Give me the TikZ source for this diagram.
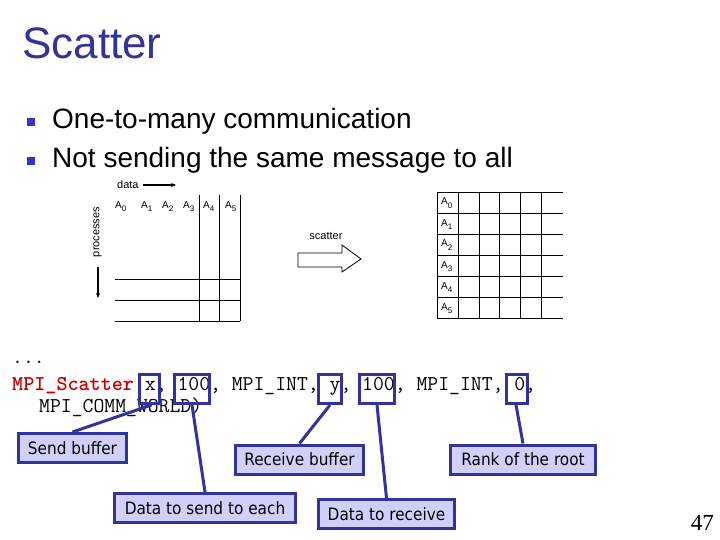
\documentclass[tikz,border=0pt]{standalone}
\usepackage{fontspec}
\setmainfont{Liberation Sans}
\newfontfamily\lblfont[FakeStretch=0.9]{DejaVu Sans}
\newfontfamily\numfont{Liberation Serif}
\usetikzlibrary{arrows.meta}
\definecolor{titleblue}{RGB}{51,51,153}
\definecolor{bulletblue}{RGB}{51,51,204}
\definecolor{boxblue}{RGB}{51,51,160}
\definecolor{boxfill}{RGB}{208,208,250}
\definecolor{codered}{RGB}{200,0,0}
\newcommand\Asub[1]{A\raisebox{-3pt}{\fontsize{8}{8}\selectfont #1}}
\begin{document}
\begin{tikzpicture}[x=1pt,y=-1pt,
  titletext/.style={anchor=base west, inner sep=0, text=titleblue, font=\fontsize{44}{50}\selectfont},
  bullettext/.style={anchor=base west, inner sep=0, font=\fontsize{28}{32}\selectfont},
  bulletsq/.style={fill=bulletblue, minimum size=8pt, inner sep=0},
  codetext/.style={anchor=base west, inner sep=0, font=\ttfamily\fontsize{21.1}{23}\selectfont},
  codebox/.style={draw=boxblue, line width=3pt, inner sep=0, minimum height=29pt},
  lbl/.style={draw=boxblue, fill=boxfill, line width=3pt, inner sep=0, minimum height=29pt, font=\lblfont\fontsize{17}{20}\selectfont},
  conn/.style={draw=boxblue, line width=3pt},
  gridline/.style={line width=0.9pt},
  smalltext/.style={inner sep=0, font=\fontsize{11}{13}\selectfont},
  alabel/.style={anchor=base west, inner sep=0, font=\fontsize{10}{11}\selectfont},
]
\useasboundingbox (0,0) rectangle (720,540);

% title and bullets
\node[titletext] (title) at (22,59) {Scatter};
\node[bulletsq] (sq1) at (31,122) {};
\node[bullettext] (b1) at (52,129) {One-to-many communication};
\node[bulletsq] (sq2) at (31,161) {};
\node[bullettext] (b2) at (52,168) {Not sending the same message to all};

% left diagram
\node[smalltext, anchor=base west] (data) at (117,189) {data};
\coordinate (da1) at (143,185);
\coordinate (da2) at (176,185);
\draw[line width=1.2pt, -{Stealth[length=5pt,width=4pt]}] (da1) -- (da2);
\node[smalltext, rotate=90] (proc) at (97.5,232) {processes};
\coordinate (pa1) at (98,267);
\coordinate (pa2) at (98,298);
\draw[line width=1.4pt, -{Stealth[length=5pt,width=4pt]}] (pa1) -- (pa2);
\foreach \i/\x in {0/115,1/141,2/162,3/183,4/203,5/225}
  \node[alabel] (la\i) at (\x,208) {\Asub{\i}};
\foreach \x in {199,219,240}
  \draw[gridline] (\x,195) -- (\x,321);
\foreach \y in {279,300,321}
  \draw[gridline] (115,\y) -- (240,\y);

% scatter arrow
\node[smalltext] (sc) at (326,236) {scatter};
\draw[line width=0.8pt, fill=white] (298,253) -- (342,253) -- (342,245) -- (361,259) -- (342,272) -- (342,267) -- (298,267) -- cycle;

% right grid
\foreach \x in {437,458,479,499,520,541}
  \draw[gridline] (\x,192) -- (\x,318);
\foreach \y in {192,213,234,255,276,297,318}
  \draw[gridline] (437,\y) -- (563,\y);
\foreach \i/\y in {0/192,1/213,2/234,3/255,4/276,5/297}
  \node[alabel] (ra\i) at (441,\y+13) {\Asub{\i}};

% code
\node[codetext] (dots) at (12,363) {...};
\node[codetext] (call) at (12,390) {\textcolor{codered}{\bfseries MPI\_Scatter} x, 100, MPI\_INT, y, 100, MPI\_INT, 0,};
\node[codetext] (comm) at (39,412) {MPI\_COMM\_WORLD)};

% code boxes
\node[codebox, minimum width=20pt] (bx) at (149.5,389) {};
\node[codebox, minimum width=35pt] (bna) at (192,389) {};
\node[codebox, minimum width=23pt] (by) at (330,389) {};
\node[codebox, minimum width=35pt] (bnb) at (377,389) {};
\node[codebox, minimum width=21pt] (bz) at (517,389) {};

% label boxes
\node[lbl, minimum width=108pt] (sb) at (72.5,448) {Send buffer};
\node[lbl, minimum width=181pt] (ds) at (205,508) {Data to send to each};
\node[lbl, minimum width=128pt] (rb) at (299.5,459.5) {Receive buffer};
\node[lbl, minimum width=136pt] (dr) at (386.5,514) {Data to receive};
\node[lbl, minimum width=145pt] (rr) at (523,459.5) {Rank of the root};

% connectors
\draw[conn] (sb.north) -- ([xshift=2pt]bx.south);
\draw[conn] (ds.north) -- (bna.south);
\draw[conn] (rb.north) -- (by.south);
\draw[conn] (dr.north) -- (bnb.south);
\draw[conn] (rr.north) -- ([xshift=-1pt]bz.south);

% page number
\node[anchor=base east, inner sep=0, font=\numfont\fontsize{23}{25}\selectfont] (pg) at (714,530) {47};
\end{tikzpicture}
\end{document}
